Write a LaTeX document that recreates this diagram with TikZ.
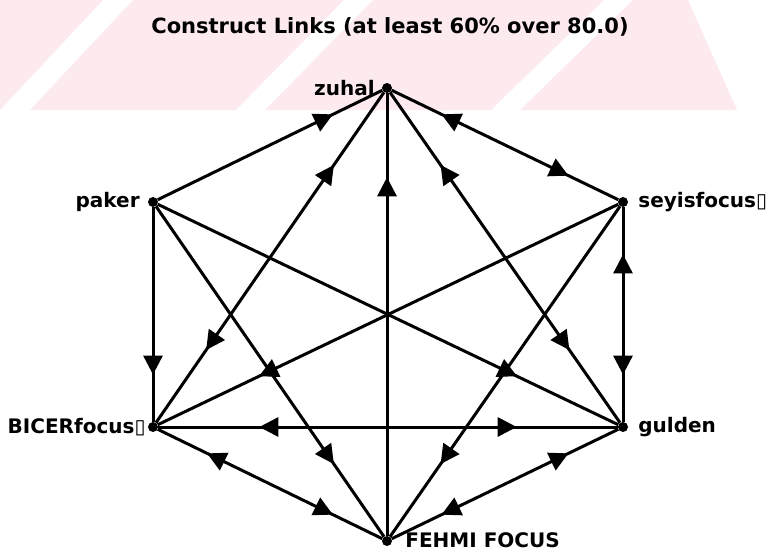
\documentclass[tikz,border=0pt]{standalone}
\usepackage{fontspec}
\setmainfont{DejaVu Sans}
\usetikzlibrary{arrows.meta,decorations.markings,positioning}
\definecolor{wmpink}{RGB}{252,234,238}

\tikzset{
    person/.style={circle, fill=black, inner sep=0pt, minimum size=10pt},
    who/.style={inner sep=0pt, font=\bfseries\fontsize{20}{24}\selectfont},
    headline/.style={inner sep=0pt, font=\bfseries\fontsize{21}{25}\selectfont},
    tip/.tip={Triangle[length=19pt,width=19pt]},
    oneway/.style={line width=3pt,
        decoration={markings, mark=at position #1 with {\arrow{tip}}},
        postaction={decorate}},
    oneway/.default=0.78,
    twoway/.style={line width=3pt,
        decoration={markings,
            mark=at position 0.22 with {\arrowreversed{tip}},
            mark=at position 0.78 with {\arrow{tip}}},
        postaction={decorate}},
}

\begin{document}
\begin{tikzpicture}[x=1pt,y=-1pt]
        \useasboundingbox (0,0) rectangle (770,552);
        \begin{scope}
            \clip (0,0) rectangle (770,110);
            \fill[wmpink] (0,0) -- (103,0) -- (0,110) -- cycle;
            \fill[wmpink] (30,110) -- (133,0) -- (344,0) -- (236,110) -- cycle;
            \fill[wmpink] (265,110) -- (373,0) -- (604,0) -- (491,110) -- cycle;
            \fill[wmpink] (520,110) -- (633,0) -- (688,0) -- (737,110) -- cycle;
        \end{scope}

        \node[headline] (title) at (390,27) {Construct Links (at least 60\% over 80.0)};

        \node[person] (zuhal) at (387,88) {};
        \node[person] (seyis) at (623,202) {};
        \node[person] (gulden) at (623,427) {};
        \node[person] (fehmi) at (387,541) {};
        \node[person] (bicer) at (153,427) {};
        \node[person] (paker) at (153,202) {};

        \node[who, left=7pt of zuhal] (zuhal-t) {zuhal};
        \node[who, right=10pt of seyis] (seyis-t) {seyisfocus▯};
        \node[who, right=10pt of gulden] (gulden-t) {gulden};
        \node[who, right=13pt of fehmi, yshift=1pt] (fehmi-t) {FEHMI FOCUS};
        \node[who, left=2pt of bicer] (bicer-t) {BICERfocus▯};
        \node[who, left=8pt of paker] (paker-t) {paker};

        \draw[oneway] (paker) -- (zuhal);
        \draw[twoway] (zuhal) -- (seyis);
        \draw[twoway] (gulden) -- (zuhal);
        \draw[oneway=0.81] (fehmi) -- (zuhal);
        \draw[twoway] (bicer) -- (zuhal);
        \draw[oneway] (paker) -- (bicer);
        \draw[oneway] (paker) -- (fehmi);
        \draw[oneway] (paker) -- (gulden);
        \draw[twoway] (seyis) -- (gulden);
        \draw[oneway] (seyis) -- (fehmi);
        \draw[oneway] (seyis) -- (bicer);
        \draw[twoway] (bicer) -- (gulden);
        \draw[twoway] (bicer) -- (fehmi);
        \draw[twoway] (fehmi) -- (gulden);
\end{tikzpicture}
\end{document}
